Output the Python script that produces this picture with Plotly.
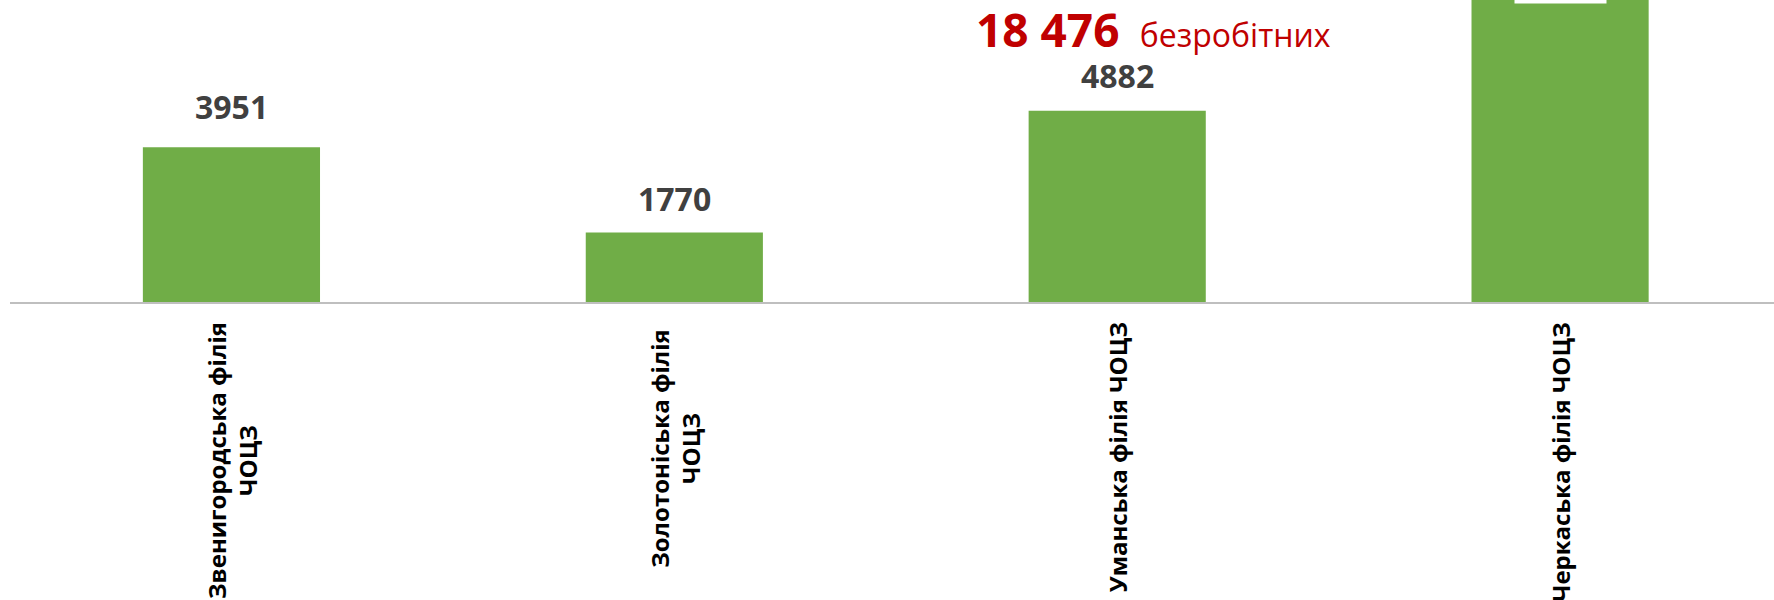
import plotly.graph_objects as go

categories = [
    "Звенигородська філія<br>ЧОЦЗ",
    "Золотоніська філія<br>ЧОЦЗ",
    "Уманська філія ЧОЦЗ",
    "Черкаська філія ЧОЦЗ",
]
values = [3951, 1770, 4882, 7873]
total_number = "18 476"
total_word = "безробітних"

GREEN = "#70AD47"
RED = "#C00000"
LABEL_GRAY = "#404040"
FONT = "Open Sans"

x_idx = list(range(len(categories)))

fig = go.Figure()
fig.add_trace(go.Bar(
    x=x_idx,
    y=values,
    width=0.4,
    marker=dict(color=GREEN, line=dict(width=0)),
    hoverinfo="skip",
))

annotations = []
# value labels (first three bars fit in view)
label_shift = [17, 11, 12]
for i, v in enumerate(values[:3]):
    annotations.append(dict(
        x=i, y=v, xref="x", yref="y",
        text=f"<b>{v}</b>", showarrow=False,
        xanchor="center", yanchor="bottom", yshift=label_shift[i],
        font=dict(family=FONT, size=32, color=LABEL_GRAY),
    ))
# label of the tallest bar, mostly clipped, on a white box
annotations.append(dict(
    x=3, y=0.9877, xref="x", yref="paper",
    text=f"<b>{values[3]}</b>", showarrow=False,
    xanchor="center", yanchor="bottom",
    bgcolor="white", borderpad=9,
    font=dict(family=FONT, size=32, color=LABEL_GRAY),
))
# category labels, rotated
for i, c in enumerate(categories):
    annotations.append(dict(
        x=i, y=0, xref="x", yref="paper",
        text=f"<b>{c}</b>", showarrow=False,
        textangle=-90, align="center",
        xanchor="center", yanchor="top",
        yshift=-19 - (7 if i == 1 else 0), borderpad=0,
        font=dict(family=FONT, size=24, color="#000000"),
    ))
# total
annotations.append(dict(
    x=0.6485, y=1, xref="paper", yref="paper",
    text=(f"<b>{total_number}</b>\u00a0"
          f"<span style='font-size:32px'>\u00a0{total_word}</span>"),
    showarrow=False, xanchor="center", yanchor="top", yshift=4,
    font=dict(family=FONT, size=46, color=RED),
))

fig.update_layout(
    width=1774, height=600,
    margin=dict(l=10, r=0, t=0, b=298),
    paper_bgcolor="white", plot_bgcolor="white",
    showlegend=False,
    annotations=annotations,
    xaxis=dict(
        range=[-0.5, 3.483], showticklabels=False, ticks="",
        showgrid=False, zeroline=False,
        showline=True, linecolor="#BFBFBF", linewidth=2,
        fixedrange=True,
    ),
    yaxis=dict(
        range=[0, 7705], visible=False, showgrid=False, zeroline=False,
        fixedrange=True,
    ),
)

fig.write_html(
    "out.html",
    config={"displayModeBar": False},
    post_script="document.body.style.margin='0';document.body.style.overflow='hidden';",
)
